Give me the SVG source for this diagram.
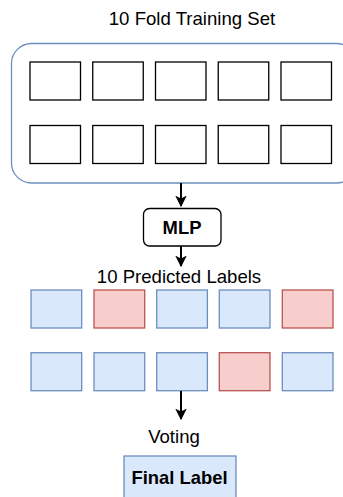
<svg xmlns="http://www.w3.org/2000/svg" width="343" height="497" viewBox="0 0 343 497">
<defs>
<marker id="ah" viewBox="0 0 10 10" refX="9" refY="5" markerWidth="5.8" markerHeight="5.8" orient="auto" markerUnits="strokeWidth">
<path d="M0,0 L10,5 L0,10 L2.5,5 Z" fill="#000"/>
</marker>
<style>
text{font-family:"Liberation Sans",Arial,Helvetica,sans-serif;fill:#000;text-anchor:middle}
.lbl{font-size:18.6px}
.bold{font-size:18.4px;font-weight:bold}
.fold{fill:#fff;stroke:#000;stroke-width:1.3}
.blue{fill:#dae8fc;stroke:#6c8ebf;stroke-width:1.3}
.red{fill:#f8cecc;stroke:#b85450;stroke-width:1.3}
.conn{stroke:#000;stroke-width:2;fill:none;marker-end:url(#ah)}
</style>
</defs>
<g id="title"><text class="lbl" x="192" y="25">10 Fold Training Set</text></g>
<g id="container"><rect x="11.5" y="43.5" width="345" height="139.5" rx="20" ry="20" fill="#fff" stroke="#6c8ebf" stroke-width="1.3"/></g>
<g id="folds">
<rect class="fold" x="30" y="62" width="50.5" height="38"/>
<rect class="fold" x="92.75" y="62" width="50.5" height="38"/>
<rect class="fold" x="155.5" y="62" width="50.5" height="38"/>
<rect class="fold" x="218.25" y="62" width="50.5" height="38"/>
<rect class="fold" x="281" y="62" width="50.5" height="38"/>
<rect class="fold" x="30" y="125.5" width="50.5" height="38"/>
<rect class="fold" x="92.75" y="125.5" width="50.5" height="38"/>
<rect class="fold" x="155.5" y="125.5" width="50.5" height="38"/>
<rect class="fold" x="218.25" y="125.5" width="50.5" height="38"/>
<rect class="fold" x="281" y="125.5" width="50.5" height="38"/>
</g>
<g id="mlp">
<rect x="143.5" y="208.5" width="77.5" height="37.5" rx="6" ry="6" fill="#fff" stroke="#000" stroke-width="1.3"/>
<text class="bold" x="182" y="233.5">MLP</text>
</g>
<g id="predicted-title"><text class="lbl" x="179" y="283">10 Predicted Labels</text></g>
<g id="predicted">
<rect class="blue" x="31" y="290" width="50.7" height="38"/>
<rect class="red" x="94" y="290" width="50.7" height="38"/>
<rect class="blue" x="156.7" y="290" width="50.7" height="38"/>
<rect class="blue" x="219.3" y="290" width="50.7" height="38"/>
<rect class="red" x="282.3" y="290" width="50.7" height="38"/>
<rect class="blue" x="31" y="352.7" width="50.7" height="38"/>
<rect class="blue" x="94" y="352.7" width="50.7" height="38"/>
<rect class="blue" x="156.7" y="352.7" width="50.7" height="38"/>
<rect class="red" x="219.3" y="352.7" width="50.7" height="38"/>
<rect class="blue" x="282.3" y="352.7" width="50.7" height="38"/>
</g>
<g id="voting"><text class="lbl" x="174" y="443">Voting</text></g>
<g id="final">
<rect class="blue" x="124" y="456" width="112" height="46"/>
<text class="bold" x="179.5" y="483.5">Final Label</text>
</g>
<g id="connectors">
<line class="conn" x1="181" y1="183" x2="181" y2="206"/>
<line class="conn" x1="181" y1="246" x2="181" y2="266"/>
<line class="conn" x1="181" y1="391" x2="181" y2="419"/>
</g>
</svg>
